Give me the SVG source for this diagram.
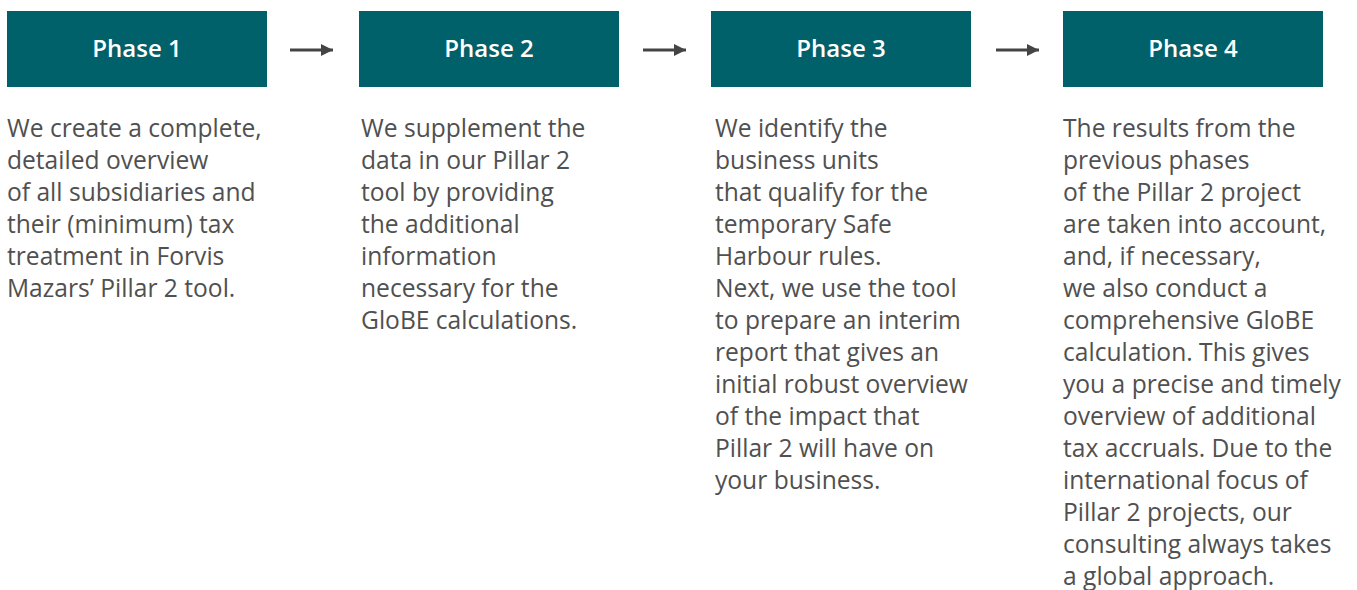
<svg xmlns="http://www.w3.org/2000/svg" width="1357" height="590" viewBox="0 0 1357 590">
<defs>
<style>
.hdr{fill:#00616b}
.ht{font-family:"Open Sans","Noto Sans",sans-serif;font-weight:600;font-size:24px;fill:#fff;text-anchor:middle}
.bt{font-family:"Open Sans","Noto Sans",sans-serif;font-weight:400;font-size:24.6px;fill:#505050}
.arr{stroke:#444;stroke-width:3;fill:none}
</style>
<marker id="ah" viewBox="0 0 10 10" refX="10" refY="5" markerWidth="4" markerHeight="4" markerUnits="strokeWidth" orient="auto"><path d="M0,0 L10,5 L0,10 Z" fill="#444"/></marker>
</defs>
<rect width="1357" height="590" fill="#fff"/>
<g id="connectors">
<line class="arr" x1="290" y1="50" x2="333" y2="50" marker-end="url(#ah)"/>
<line class="arr" x1="643" y1="50" x2="686" y2="50" marker-end="url(#ah)"/>
<line class="arr" x1="996" y1="50" x2="1039" y2="50" marker-end="url(#ah)"/>
</g>
<g id="phase1">
<rect class="hdr" x="7" y="11" width="260" height="76"/>
<text class="ht" x="137" y="57">Phase 1</text>
<text class="bt"><tspan x="7" y="137">We create a complete,</tspan><tspan x="7" y="169">detailed overview</tspan><tspan x="7" y="201">of all subsidiaries and</tspan><tspan x="7" y="233">their (minimum) tax</tspan><tspan x="7" y="265">treatment in Forvis</tspan><tspan x="7" y="297">Mazars’ Pillar 2 tool.</tspan></text>
</g>
<g id="phase2">
<rect class="hdr" x="359" y="11" width="260" height="76"/>
<text class="ht" x="489" y="57">Phase 2</text>
<text class="bt"><tspan x="361" y="137">We supplement the</tspan><tspan x="361" y="169">data in our Pillar 2</tspan><tspan x="361" y="201">tool by providing</tspan><tspan x="361" y="233">the additional</tspan><tspan x="361" y="265">information</tspan><tspan x="361" y="297">necessary for the</tspan><tspan x="361" y="329">GloBE calculations.</tspan></text>
</g>
<g id="phase3">
<rect class="hdr" x="711" y="11" width="260" height="76"/>
<text class="ht" x="841" y="57">Phase 3</text>
<text class="bt"><tspan x="715" y="137">We identify the</tspan><tspan x="715" y="169">business units</tspan><tspan x="715" y="201">that qualify for the</tspan><tspan x="715" y="233">temporary Safe</tspan><tspan x="715" y="265">Harbour rules.</tspan><tspan x="715" y="297">Next, we use the tool</tspan><tspan x="715" y="329">to prepare an interim</tspan><tspan x="715" y="361">report that gives an</tspan><tspan x="715" y="393">initial robust overview</tspan><tspan x="715" y="425">of the impact that</tspan><tspan x="715" y="457">Pillar 2 will have on</tspan><tspan x="715" y="489">your business.</tspan></text>
</g>
<g id="phase4">
<rect class="hdr" x="1063" y="11" width="260" height="76"/>
<text class="ht" x="1193" y="57">Phase 4</text>
<text class="bt"><tspan x="1063" y="137">The results from the</tspan><tspan x="1063" y="169">previous phases</tspan><tspan x="1063" y="201">of the Pillar 2 project</tspan><tspan x="1063" y="233">are taken into account,</tspan><tspan x="1063" y="265">and, if necessary,</tspan><tspan x="1063" y="297">we also conduct a</tspan><tspan x="1063" y="329">comprehensive GloBE</tspan><tspan x="1063" y="361">calculation. This gives</tspan><tspan x="1063" y="393">you a precise and timely</tspan><tspan x="1063" y="425">overview of additional</tspan><tspan x="1063" y="457">tax accruals. Due to the</tspan><tspan x="1063" y="489">international focus of</tspan><tspan x="1063" y="521">Pillar 2 projects, our</tspan><tspan x="1063" y="553">consulting always takes</tspan><tspan x="1063" y="585">a global approach.</tspan></text>
</g>
</svg>
